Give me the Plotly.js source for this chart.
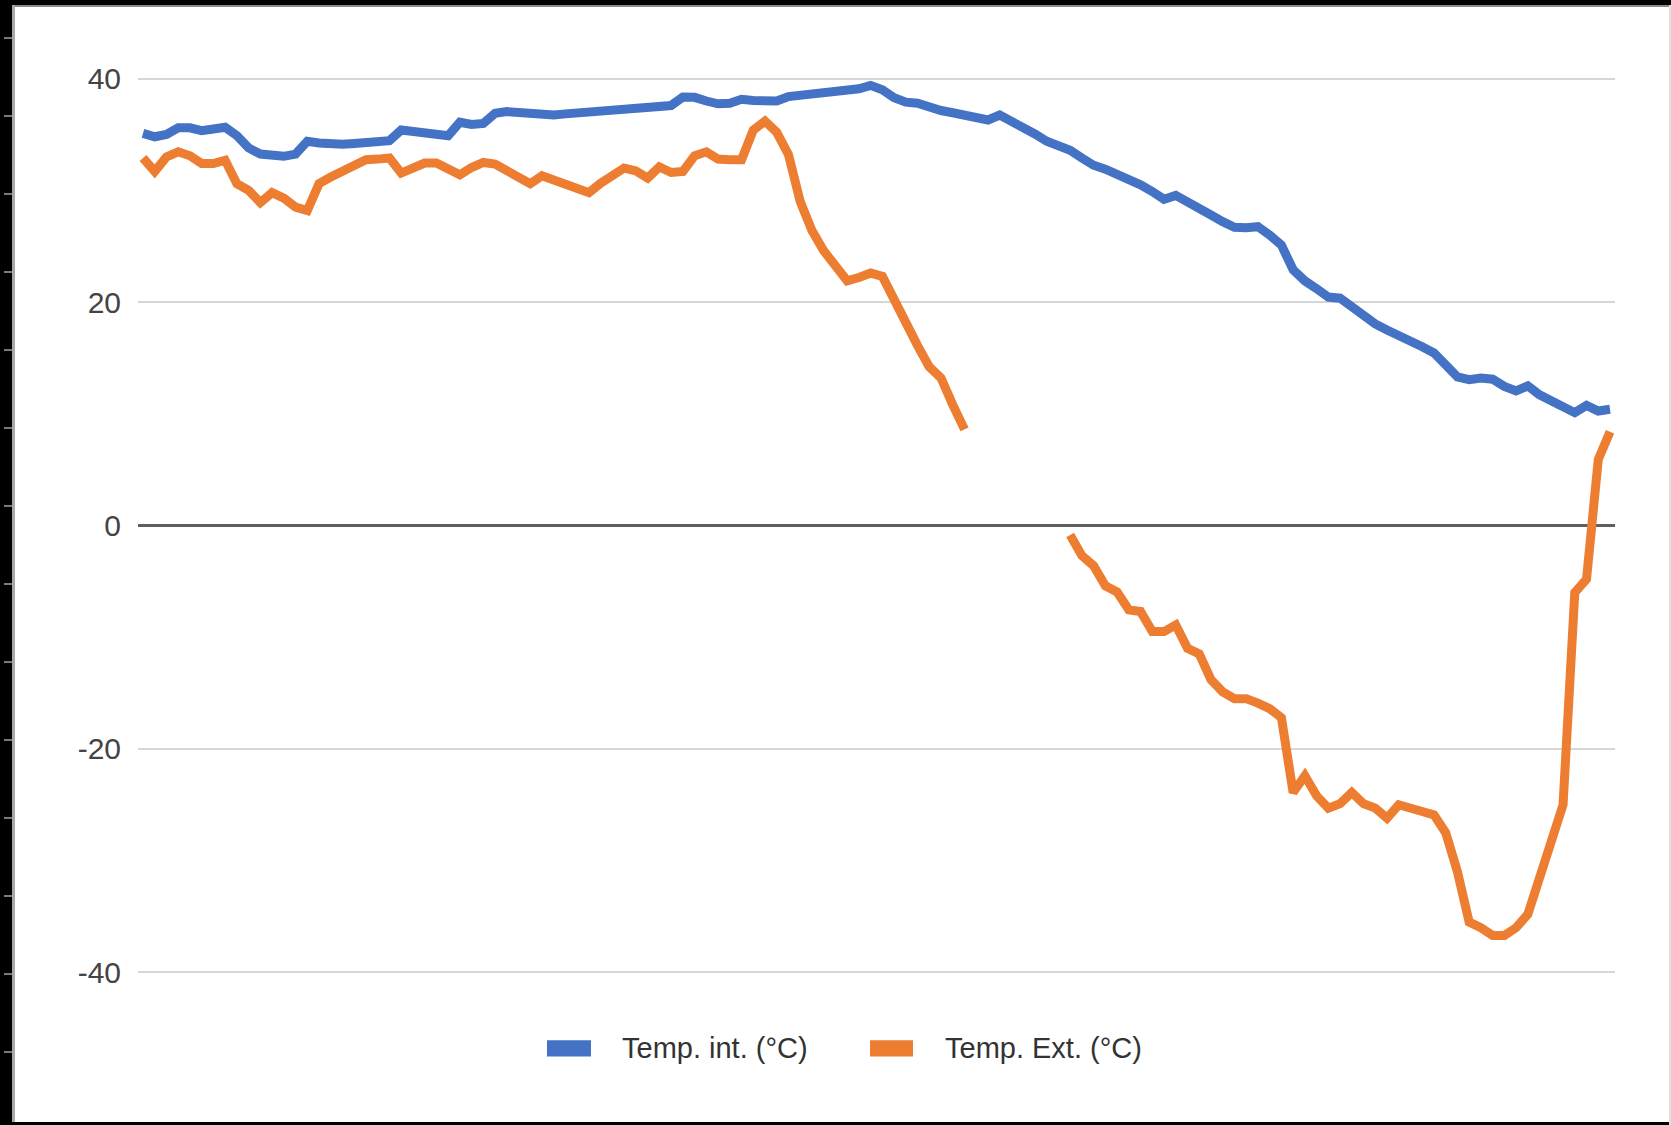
<!DOCTYPE html>
<html>
<head>
<meta charset="utf-8">
<script src="https://cdn.plot.ly/plotly-3.0.1.min.js"></script>
<style>
  html, body { margin: 0; padding: 0; background: #ffffff; }
  #wrap { position: relative; width: 1671px; height: 1125px; overflow: hidden; background: #ffffff; }
  #chart { position: absolute; left: 0; top: 0; width: 1671px; height: 1125px; }
  .frame { position: absolute; z-index: 10; }
</style>
</head>
<body>
<div id="wrap">
  <div id="chart"></div>
  <div class="frame" style="left:0;top:0;width:1671px;height:5px;background:#000;"></div>
  <div class="frame" style="left:0;top:5px;width:1671px;height:2px;background:#8a8a8a;"></div>
  <div class="frame" style="left:0;top:0;width:12px;height:1125px;background:#000;"></div>
  <div class="frame" style="left:12px;top:5px;width:3px;height:1120px;background:#a8a8a8;"></div>
  <div class="frame" style="left:0;top:1122px;width:1671px;height:3px;background:#000;"></div>
  <div class="frame" style="left:1669px;top:5px;width:2px;height:1120px;background:#e2e2e2;"></div>
  <div id="ticks"></div>
</div>
<script>
// ---- data ----
const seriesNames = ["Temp. int. (°C)", "Temp. Ext. (°C)"];
const tempInt = [
  35.1, 34.8, 35.0, 35.6, 35.6, 35.35, 35.5, 35.65, 34.9, 33.8,
  33.25, 33.1, 33.05, 33.25, 34.4, 34.25, 34.1, 34.12, 34.2, 34.27,
  34.33, 34.45, 35.4, 35.3, 35.1, 35.0, 34.9, 36.1, 35.9, 36.0,
  36.9, 37.05, 36.95, 36.8, 36.7, 36.75, 36.85, 36.95, 37.07, 37.12,
  37.2, 37.28, 37.35, 37.42, 37.5, 37.6, 38.35, 38.33, 38.0, 37.75,
  37.8, 38.15, 38.05, 37.97, 38.0, 38.4, 38.5, 38.6, 38.7, 38.78,
  38.85, 39.1, 39.4, 39.0, 38.3, 37.9, 37.8, 37.4, 37.15, 36.95,
  36.7, 36.35, 36.3, 36.75, 36.25, 35.7, 35.05, 34.4, 34.0, 33.6,
  32.9, 32.25, 31.9, 31.5, 31.0, 30.5, 29.9, 29.2, 29.55, 28.9,
  28.25, 27.8, 27.2, 26.7, 26.65, 26.75, 26.0, 25.1, 22.9, 21.9,
  21.2, 20.45, 20.35, 19.6, 18.7, 18.05, 17.5, 17.05, 16.55, 16.0,
  15.45, 14.3, 13.3, 13.05, 13.2, 13.1, 12.45, 12.05, 12.5, 11.7,
  11.1, 10.6, 10.1, 10.75, 10.25, 10.4
];
const tempExt = [
  32.9, 31.7, 33.0, 33.45, 33.1, 32.4, 32.4, 32.7, 30.6, 30.0,
  28.9, 29.8, 29.3, 28.5, 28.2, 30.6, 31.2, 31.7, 32.4, 32.75,
  32.8, 32.9, 31.55, 31.9, 32.45, 32.45, 32.0, 31.4, 32.05, 32.5,
  32.35, 31.75, 31.1, 30.6, 31.3, 30.9, 30.5, 30.1, 29.8, 30.65,
  31.4, 32.0, 31.75, 31.1, 32.1, 31.6, 31.7, 33.1, 33.45, 32.8,
  32.75, 32.75, 35.4, 36.2, 35.2, 33.2, 29.0, 26.4, 24.6, 23.1,
  21.9, 22.2, 22.6, 22.3, 20.2, 17.8, 16.1, 14.2, 13.2, 10.8,
  8.6, null, null, null, null, null, null, null, null, -0.85,
  -2.7, -3.6, -5.4, -5.95, -7.55, -7.7, -9.5, -9.5, -8.9, -11.0,
  -11.5, -13.8, -14.9, -15.5, -15.5, -15.9, -16.4, -17.2, -23.9, -22.4,
  -24.2, -25.3, -24.9, -23.9, -24.9, -25.3, -26.2, -25.0, -25.4, -25.6,
  -25.9, -27.5, -31.0, -35.5, -36.0, -36.7, -36.7, -36.0, -34.8, -31.5,
  -28.3, -25.0, -6.0, -4.8, 5.9, 8.4
];
const yTickValues = [-40, -20, 0, 20, 40];
const yTickLabels = ["-40", "-20", "0", "20", "40"];
const seriesColors = ["#4472c4", "#ed7d31"];

// ---- layout geometry (pixels) ----
const W = 1671, H = 1125;
const plotL = 138, plotR = 1615;
const y40px = 79, yM40px = 972;
const pxPerUnit = (yM40px - y40px) / 80;
const yMax = 44, yMin = -44;
const plotT = y40px - (yMax - 40) * pxPerUnit;
const plotB = yM40px + (-40 - yMin) * pxPerUnit;
const firstPx = 143, lastPx = 1610;
const nPts = tempInt.length;
const pxPerIdx = (lastPx - firstPx) / (nPts - 1);
const xr = [-(firstPx - plotL) / pxPerIdx, (nPts - 1) + (plotR - lastPx) / pxPerIdx];

function px2x(px) { return (px - plotL) / (plotR - plotL); }
function px2y(py) { return (plotB - py) / (plotB - plotT); }

const traces = [
  { y: tempInt, name: seriesNames[0], type: "scatter", mode: "lines",
    line: { color: seriesColors[0], width: 9, shape: "linear" }, connectgaps: false, hoverinfo: "skip" },
  { y: tempExt, name: seriesNames[1], type: "scatter", mode: "lines",
    line: { color: seriesColors[1], width: 9, shape: "linear" }, connectgaps: false, hoverinfo: "skip" }
];

const legendItems = [
  { rect: [547, 591], textX: 621, color: seriesColors[0], text: seriesNames[0] },
  { rect: [870, 913], textX: 944, color: seriesColors[1], text: seriesNames[1] }
];
const legY0 = 1040, legY1 = 1056, legTextY = 1048;

const shapes = legendItems.map(it => ({
  type: "rect", xref: "paper", yref: "paper",
  x0: px2x(it.rect[0]), x1: px2x(it.rect[1]),
  y0: px2y(legY1), y1: px2y(legY0),
  fillcolor: it.color, line: { width: 0 }
}));
const annotations = legendItems.map(it => ({
  xref: "paper", yref: "paper", x: px2x(it.textX), y: px2y(legTextY),
  xanchor: "left", yanchor: "middle", showarrow: false, text: it.text,
  font: { family: "Liberation Sans, Arial, sans-serif", size: 29, color: "#333333" },
  borderpad: 0
}));

const layout = {
  width: W, height: H,
  margin: { l: plotL, r: W - plotR, t: plotT, b: H - plotB, pad: 0 },
  paper_bgcolor: "#ffffff", plot_bgcolor: "#ffffff",
  showlegend: false,
  xaxis: { range: xr, showgrid: false, zeroline: false, showticklabels: false,
           showline: false, ticks: "", fixedrange: true },
  yaxis: { range: [yMin, yMax], tickmode: "array", tickvals: yTickValues, ticktext: yTickLabels,
           showgrid: true, gridcolor: "#d6d6d6", gridwidth: 2,
           zeroline: true, zerolinecolor: "#5e5e5e", zerolinewidth: 2.5,
           showline: false, ticks: "", ticklabelstandoff: 16,
           tickfont: { family: "Liberation Sans, Arial, sans-serif", size: 30, color: "#444444" },
           fixedrange: true },
  shapes: shapes,
  annotations: annotations
};

Plotly.newPlot("chart", traces, layout, { staticPlot: true, displayModeBar: false });

// small ruler marks on the left frame
const tk = document.getElementById("ticks");
for (let y = 37; y < 1120; y += 78) {
  const d = document.createElement("div");
  d.className = "frame";
  d.style.cssText = "left:4px;top:" + y + "px;width:8px;height:2px;background:#7a7a7a;";
  tk.appendChild(d);
}
</script>
</body>
</html>
